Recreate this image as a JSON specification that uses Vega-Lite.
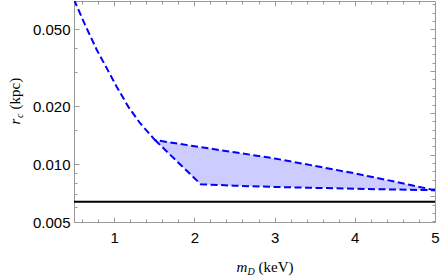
{
  "$schema": "https://vega.github.io/schema/vega-lite/v6.json",
  "width": 361,
  "height": 221,
  "autosize": {"type": "none"},
  "padding": {"left": 74, "top": 1, "right": 6, "bottom": 55},
  "background": "white",
  "config": {
    "view": {"stroke": null},
    "axis": {
      "grid": false,
      "domainColor": "#999999",
      "tickColor": "#999999",
      "domainWidth": 1,
      "tickWidth": 1,
      "labelColor": "#000000",
      "labelFont": "Liberation Sans",
      "labelFontSize": 15,
      "titleColor": "#000000",
      "titleFont": "Liberation Serif",
      "titleFontSize": 15,
      "titleFontWeight": "normal"
    }
  },
  "datasets": {
    "region": [
      {"m": 1.509, "hi": 0.01332, "lo": 0.01332},
      {"m": 2.08, "hi": 0.01223, "lo": 0.00785},
      {"m": 2.5, "hi": 0.01151, "lo": 0.00772},
      {"m": 3, "hi": 0.01069, "lo": 0.0076},
      {"m": 3.5, "hi": 0.00978, "lo": 0.00752},
      {"m": 4, "hi": 0.00894, "lo": 0.00744},
      {"m": 4.5, "hi": 0.0081, "lo": 0.00737},
      {"m": 5, "hi": 0.00731, "lo": 0.00731}
    ],
    "curves": [
      {"series": "upper", "m": 0.5, "r": 0.0714},
      {"series": "upper", "m": 0.637, "r": 0.0529},
      {"series": "upper", "m": 0.783, "r": 0.0392},
      {"series": "upper", "m": 0.907, "r": 0.0315},
      {"series": "upper", "m": 1.032, "r": 0.0252},
      {"series": "upper", "m": 1.176, "r": 0.01986},
      {"series": "upper", "m": 1.322, "r": 0.01633},
      {"series": "upper", "m": 1.509, "r": 0.01332},
      {"series": "upper", "m": 2.08, "r": 0.01223},
      {"series": "upper", "m": 2.5, "r": 0.01151},
      {"series": "upper", "m": 3, "r": 0.01069},
      {"series": "upper", "m": 3.5, "r": 0.00978},
      {"series": "upper", "m": 4, "r": 0.00894},
      {"series": "upper", "m": 4.5, "r": 0.0081},
      {"series": "upper", "m": 5, "r": 0.00731},
      {"series": "lower", "m": 1.509, "r": 0.01332},
      {"series": "lower", "m": 2.08, "r": 0.00785},
      {"series": "lower", "m": 2.5, "r": 0.00772},
      {"series": "lower", "m": 3, "r": 0.0076},
      {"series": "lower", "m": 3.5, "r": 0.00752},
      {"series": "lower", "m": 4, "r": 0.00744},
      {"series": "lower", "m": 4.5, "r": 0.00737},
      {"series": "lower", "m": 5, "r": 0.00731}
    ],
    "hline": [{"r": 0.00637}]
  },
  "layer": [
    {
      "data": {"name": "region"},
      "mark": {"type": "area", "color": "#ccccff", "opacity": 1, "clip": true},
      "encoding": {
        "x": {
          "field": "m", "type": "quantitative",
          "scale": {"domain": [0.5, 5], "nice": false, "zero": false},
          "axis": {
            "orient": "bottom",
            "values": [0.6, 0.8, 1, 1.2, 1.4, 1.6, 1.8, 2, 2.2, 2.4, 2.6, 2.8, 3, 3.2, 3.4, 3.6, 3.8, 4, 4.2, 4.4, 4.6, 4.8, 5],
            "tickSize": {"condition": {"test": "datum.value % 1 === 0", "value": -5}, "value": -3},
            "labelExpr": "datum.value % 1 === 0 ? format(datum.value, 'd') : ''",
            "labelPadding": 13,
            "labelBaseline": "top",
            "labelFlush": false,
            "labelOverlap": false,
            "title": "(keV)",
            "titleX": 184, "titleY": 49,
            "titleAlign": "left", "titleBaseline": "alphabetic", "titleAngle": 0
          }
        },
        "y": {
          "field": "hi", "type": "quantitative",
          "scale": {"type": "log", "domain": [0.005, 0.0702], "nice": false},
          "axis": {
            "orient": "left",
            "values": [0.005, 0.006, 0.007, 0.008, 0.009, 0.01, 0.015, 0.02, 0.03, 0.04, 0.05],
            "tickSize": {"condition": {"test": "indexof([0.005, 0.01, 0.02, 0.05], datum.value) >= 0", "value": -5}, "value": -3},
            "labelExpr": "indexof([0.005, 0.01, 0.02, 0.05], datum.value) >= 0 ? format(datum.value, '.3f') : ''",
            "labelPadding": 9,
            "labelFlush": false,
            "labelOverlap": false,
            "title": "(kpc)",
            "titleX": -55, "titleY": 108,
            "titleAngle": -90,
            "titleAlign": "left", "titleBaseline": "alphabetic"
          }
        },
        "y2": {"field": "lo"}
      }
    },
    {
      "data": {"name": "curves"},
      "mark": {"type": "line", "color": "#0000ff", "strokeWidth": 2, "strokeDash": [7, 3.5], "clip": true},
      "encoding": {
        "x": {
          "field": "m", "type": "quantitative",
          "scale": {"domain": [0.5, 5], "nice": false, "zero": false},
          "axis": {
            "orient": "top",
            "values": [0.6, 0.8, 1, 1.2, 1.4, 1.6, 1.8, 2, 2.2, 2.4, 2.6, 2.8, 3, 3.2, 3.4, 3.6, 3.8, 4, 4.2, 4.4, 4.6, 4.8],
            "tickSize": {"condition": {"test": "datum.value % 1 === 0", "value": -5}, "value": -3},
            "labels": false,
            "title": null
          }
        },
        "y": {
          "field": "r", "type": "quantitative",
          "scale": {"type": "log", "domain": [0.005, 0.0702], "nice": false},
          "axis": {
            "orient": "right",
            "values": [0.0675, 0.0611, 0.05525, 0.05, 0.04525, 0.04095, 0.03706, 0.03354, 0.03035, 0.02747, 0.02486, 0.0225, 0.02036, 0.01842, 0.01667, 0.01509, 0.01366, 0.01236, 0.01118, 0.01012, 0.00916, 0.00829, 0.0075, 0.00679, 0.00614, 0.00556, 0.00503],
            "tickSize": {"condition": {"test": "indexof([0.05, 0.03035, 0.01842, 0.01118, 0.00679], datum.value) >= 0", "value": -5}, "value": -3},
            "labels": false,
            "title": null
          }
        },
        "detail": {"field": "series"}
      }
    },
    {
      "data": {"name": "hline"},
      "mark": {"type": "rule", "color": "#000000", "strokeWidth": 2},
      "encoding": {
        "y": {
          "field": "r", "type": "quantitative",
          "scale": {"type": "log", "domain": [0.005, 0.0702], "nice": false},
          "axis": {
            "orient": "left", "domain": false, "ticks": false, "labels": false,
            "title": "r", "titleFontStyle": "italic",
            "titleX": -55, "titleY": 123, "titleAngle": -90,
            "titleAlign": "left", "titleBaseline": "alphabetic"
          }
        }
      }
    },
    {
      "data": {"name": "curves"},
      "mark": {"type": "point", "opacity": 0},
      "encoding": {
        "x": {
          "field": "m", "type": "quantitative",
          "scale": {"domain": [0.5, 5], "nice": false, "zero": false},
          "axis": {
            "orient": "bottom", "domain": false, "ticks": false, "labels": false,
            "title": "m", "titleFontStyle": "italic",
            "titleX": 162, "titleY": 49, "titleAngle": 0,
            "titleAlign": "left", "titleBaseline": "alphabetic"
          }
        },
        "y": {
          "field": "r", "type": "quantitative",
          "scale": {"type": "log", "domain": [0.005, 0.0702], "nice": false},
          "axis": {
            "orient": "left", "domain": false, "ticks": false, "labels": false,
            "title": "c", "titleFontStyle": "italic", "titleFontSize": 10,
            "titleX": -52, "titleY": 116.5, "titleAngle": -90,
            "titleAlign": "left", "titleBaseline": "alphabetic"
          }
        }
      }
    },
    {
      "data": {"name": "curves"},
      "mark": {"type": "point", "opacity": 0},
      "encoding": {
        "x": {
          "field": "m", "type": "quantitative",
          "scale": {"domain": [0.5, 5], "nice": false, "zero": false},
          "axis": {
            "orient": "bottom", "domain": false, "ticks": false, "labels": false,
            "title": "D", "titleFontStyle": "italic", "titleFontSize": 10,
            "titleX": 173, "titleY": 52, "titleAngle": 0,
            "titleAlign": "left", "titleBaseline": "alphabetic"
          }
        }
      }
    }
  ],
  "resolve": {"scale": {"x": "independent", "y": "independent"}}
}
